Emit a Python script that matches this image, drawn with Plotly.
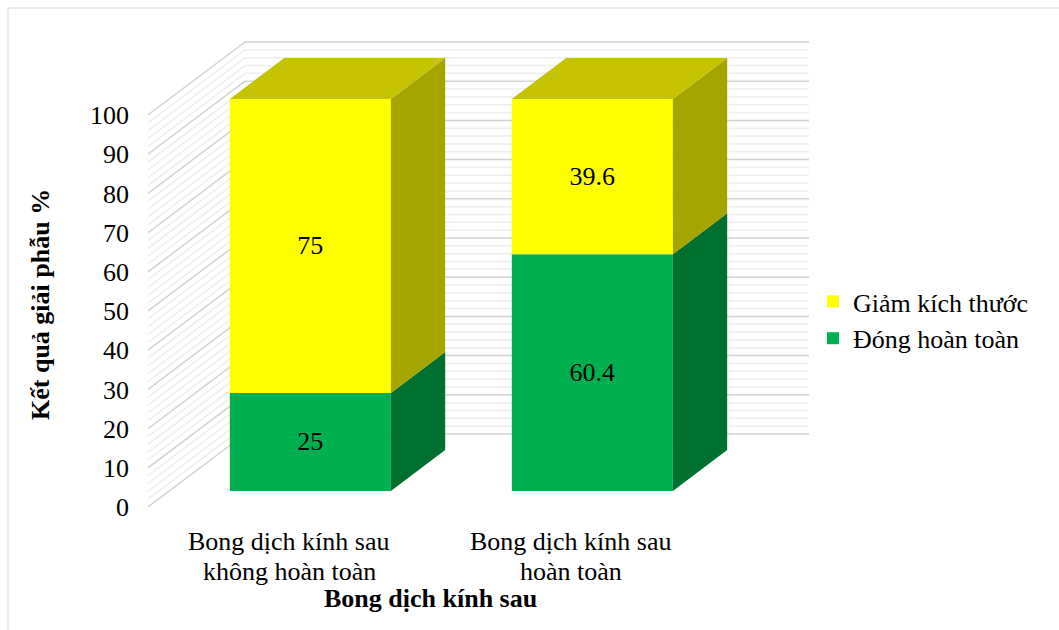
import plotly.graph_objects as go

# Data
categories = ["Bong dịch kính sau<br>không hoàn toàn", "Bong dịch kính sau<br>hoàn toàn"]
dong_hoan_toan = [25, 60.4]
giam_kich_thuoc = [75, 39.6]
y_ticks = [0, 10, 20, 30, 40, 50, 60, 70, 80, 90, 100]

FONT = "Liberation Serif, Times New Roman, serif"
FS = 26

# Oblique 3D projection parameters (in axis units)
DXU = 0.344      # horizontal shift of full depth, category units
DYU = 18.62      # vertical shift of full depth, value units
ZF, ZB = 0.22, 0.78   # front / back depth of the columns
BAR_W = 0.571


def proj(x, v, z):
    return x + z * DXU, v + z * DYU


def py(pix):
    """Pixel row -> paper y for the 30..510 plot area."""
    return (510 - pix) / 480


def px(pix):
    """Pixel column -> paper x for the 148..809 plot area."""
    return (pix - 148) / 661


fig = go.Figure()

# Walls: gridlines on the back wall and on the left side wall
shapes = []
for v in range(0, 101, 2):
    major = v % 10 == 0
    col = "#d3d3d3" if major else "#eeeeee"
    x0, y0 = proj(-0.5, v, 1)
    x1, y1 = proj(1.5, v, 1)
    shapes.append(dict(type="line", xref="x", yref="y", x0=x0, y0=y0, x1=x1, y1=y1,
                       line=dict(color=col, width=1.5), layer="below"))
    xa, ya = proj(-0.5, v, 0)
    shapes.append(dict(type="line", xref="x", yref="y", x0=xa, y0=ya, x1=x0, y1=y0,
                       line=dict(color=col, width=1.5), layer="below"))

# Outer frame
shapes.append(dict(type="rect", xref="paper", yref="paper",
                   x0=px(8), x1=px(1070), y0=py(640), y1=py(8),
                   line=dict(color="#d9d9d9", width=1), fillcolor="rgba(0,0,0,0)",
                   layer="below"))

series = [
    ("Đóng hoàn toàn", dong_hoan_toan, "#00B050", "#00702F", "#00903F"),
    ("Giảm kích thước", giam_kich_thuoc, "#FFFF00", "#A6A500", "#C5C300"),
]

xs = list(range(len(categories)))
cum = [0.0] * len(categories)
bases_all = []
for name, vals, front, side, top in series:
    bases = cum[:]
    bases_all.append(bases)
    fx, _ = proj(0, 0, ZF)
    fig.add_trace(go.Bar(
        x=[i + fx for i in xs], y=vals,
        base=[b + ZF * DYU for b in bases],
        width=BAR_W, name=name, marker=dict(color=front, line=dict(width=0)),
        text=[f"{v:g}" for v in vals], textposition="inside",
        insidetextanchor="middle", textangle=0,
        textfont=dict(family=FONT, size=FS, color="black"),
        hoverinfo="skip",
    ))
    cum = [c + v for c, v in zip(cum, vals)]

# Side and top faces of each column segment
for si, (name, vals, front, side, top) in enumerate(series):
    for i in xs:
        a = bases_all[si][i]
        b = a + vals[i]
        xr = i + BAR_W / 2
        xl = i - BAR_W / 2
        pts = [proj(xr, a, ZF), proj(xr, a, ZB), proj(xr, b, ZB), proj(xr, b, ZF), proj(xr, a, ZF)]
        fig.add_trace(go.Scatter(x=[p[0] for p in pts], y=[p[1] for p in pts],
                                 mode="lines", fill="toself", fillcolor=side,
                                 line=dict(width=0, color=side), showlegend=False,
                                 hoverinfo="skip"))
        if si == len(series) - 1:
            pts = [proj(xl, b, ZF), proj(xr, b, ZF), proj(xr, b, ZB), proj(xl, b, ZB), proj(xl, b, ZF)]
            fig.add_trace(go.Scatter(x=[p[0] for p in pts], y=[p[1] for p in pts],
                                     mode="lines", fill="toself", fillcolor=top,
                                     line=dict(width=0, color=top), showlegend=False,
                                     hoverinfo="skip"))

# Category labels, one annotation per text line
annotations = []
for i, cat in enumerate(categories):
    for k, line in enumerate(cat.split("<br>")):
        annotations.append(dict(text=line, x=i, xref="x", y=py(541 + 30 * k), yref="paper",
                                xanchor="center", yanchor="middle", showarrow=False,
                                font=dict(family=FONT, size=FS)))

annotations += [
    dict(text="<b>Bong dịch kính sau</b>", x=0.5, xref="x", y=py(598), yref="paper",
         xanchor="center", yanchor="middle", showarrow=False,
         font=dict(family=FONT, size=FS)),
    dict(text="<b>Kết quả giải phẫu %</b>", x=px(40), xref="paper", y=py(305),
         yref="paper", xanchor="center", yanchor="middle", textangle=-90,
         showarrow=False, font=dict(family=FONT, size=FS)),
]

fig.update_layout(
    width=1059, height=630,
    margin=dict(l=148, r=250, t=30, b=120),
    paper_bgcolor="white", plot_bgcolor="white",
    barmode="overlay",
    font=dict(family=FONT, size=FS, color="black"),
    shapes=shapes,
    showlegend=True,
    legend=dict(traceorder="reversed", x=px(813), xanchor="left",
                y=py(320), yanchor="middle",
                font=dict(family=FONT, size=FS, color="black"),
                bgcolor="rgba(0,0,0,0)"),
    xaxis=dict(range=[-0.5, -0.5 + 661 / 282], showticklabels=False,
               showgrid=False, zeroline=False, showline=False, ticks=""),
    yaxis=dict(range=[(507 - 510) / 3.92, (507 - 30) / 3.92], tickvals=y_ticks,
               showgrid=False, zeroline=False, showline=False, ticks="",
               tickfont=dict(family=FONT, size=FS), ticklabelstandoff=18),
    annotations=annotations,
)

fig.write_html("out.html")
